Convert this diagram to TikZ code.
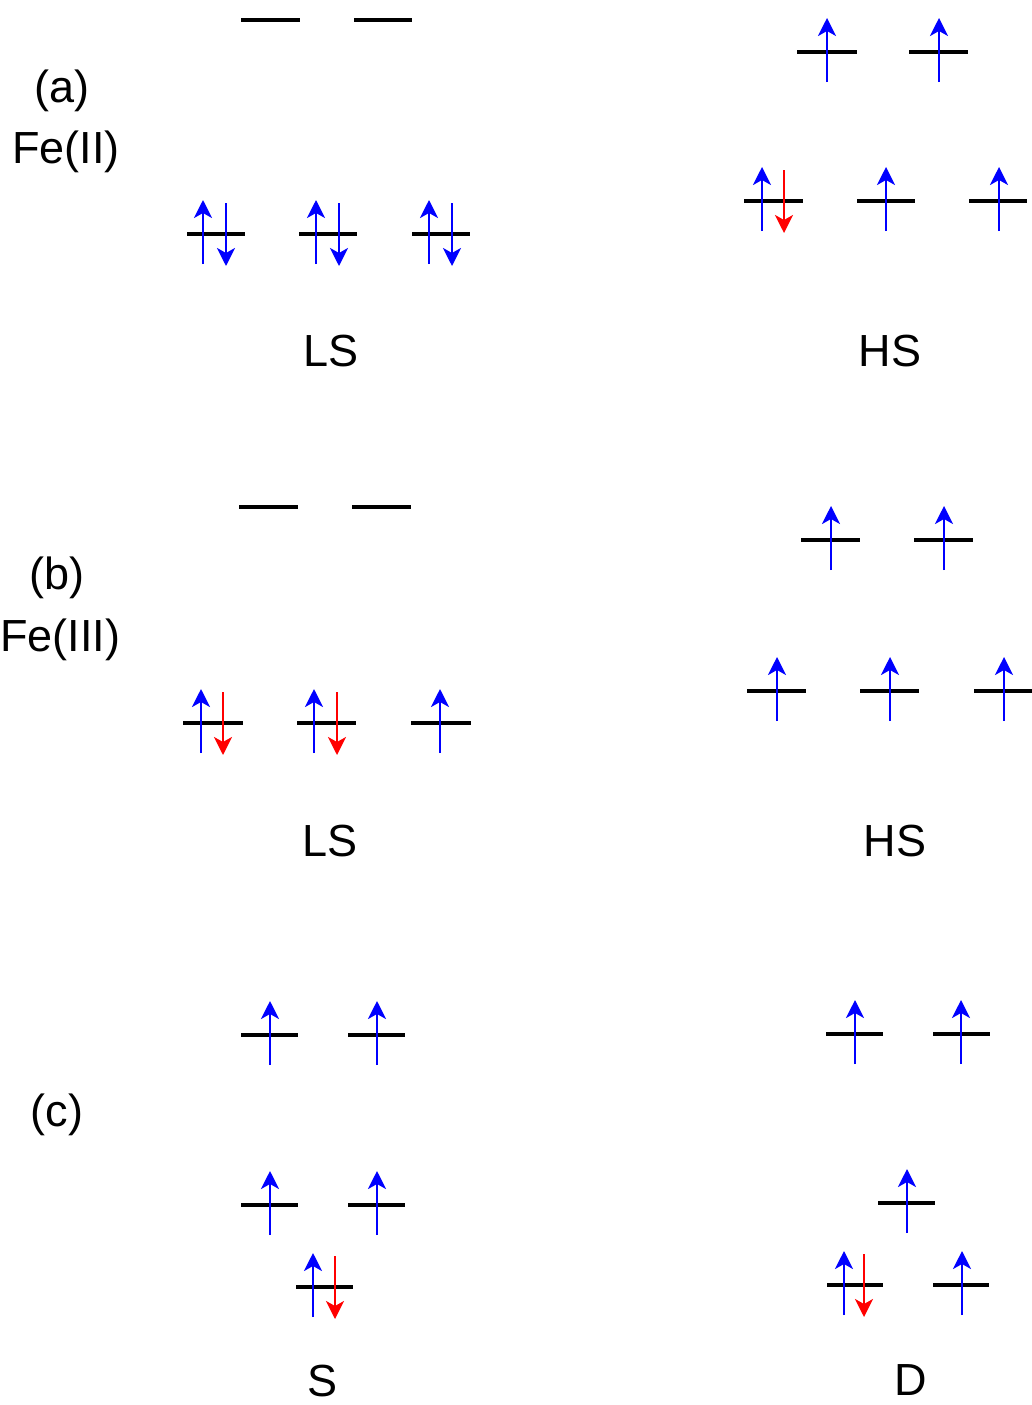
\documentclass[tikz,border=0pt]{standalone}
\usepackage{fontspec}
\setmainfont{Liberation Sans}
\usetikzlibrary{arrows.meta}

\tikzset{
  orbit/.style={line width=3.2pt, black},
  spin/.style={line width=2.4pt, -{Stealth[length=18pt,width=18pt,inset=5pt]}},
  alpha/.style={spin, blue},
  betablue/.style={spin, blue},
  betared/.style={spin, red},
  panel/.style={font=\fontsize{45}{45}\selectfont, inner sep=0pt, anchor=center},
  state/.style={font=\fontsize{45}{45}\selectfont, inner sep=0pt, anchor=center},
}

% an orbital level: name, left x, right x, height
\newcommand\orbital[4]{%
  \coordinate (#1-l) at (#2,#4);
  \coordinate (#1-r) at (#3,#4);
  \draw[orbit] (#1-l) -- (#1-r);}
% spin up / spin down electrons: x, level height
\newcommand\spinup[2]{\draw[alpha] (#1,#2+30) -- (#1,#2-34);}
\newcommand\spindn[3]{\draw[#3] (#1,#2-31) -- (#1,#2+32);}

\begin{document}
\begin{tikzpicture}[x=1pt, y=-1pt]
\useasboundingbox (0,0) rectangle (1032,1405);

% ---------- (a) Fe(II) ----------
\node[panel] (la) at (62,91) {(a)};
\node[panel] (fa) at (66,152) {Fe(II)};
% low spin
\orbital{aLe1}{241}{300}{20}
\orbital{aLe2}{354}{412}{20}
\orbital{aLt1}{187}{245}{234} \spinup{203}{234} \spindn{226}{234}{betablue}
\orbital{aLt2}{299}{357}{234} \spinup{316}{234} \spindn{339}{234}{betablue}
\orbital{aLt3}{412}{470}{234} \spinup{429}{234} \spindn{452}{234}{betablue}
\node[state] (aLS) at (331,351) {LS};
% high spin
\orbital{aHe1}{797}{857}{52} \spinup{827}{52}
\orbital{aHe2}{909}{968}{52} \spinup{939}{52}
\orbital{aHt1}{744}{803}{201} \spinup{762}{201} \spindn{784}{201}{betared}
\orbital{aHt2}{857}{915}{201} \spinup{886}{201}
\orbital{aHt3}{969}{1027}{201} \spinup{999}{201}
\node[state] (aHS) at (890,351) {HS};

% ---------- (b) Fe(III) ----------
\node[panel] (lb) at (57,578) {(b)};
\node[panel] (fb) at (60,640) {Fe(III)};
% low spin
\orbital{bLe1}{239}{298}{507}
\orbital{bLe2}{352}{411}{507}
\orbital{bLt1}{183}{243}{723} \spinup{201}{723} \spindn{223}{723}{betared}
\orbital{bLt2}{297}{356}{723} \spinup{314}{723} \spindn{337}{723}{betared}
\orbital{bLt3}{411}{471}{723} \spinup{440}{723}
\node[state] (bLS) at (330,841) {LS};
% high spin
\orbital{bHe1}{801}{860}{540} \spinup{831}{540}
\orbital{bHe2}{914}{973}{540} \spinup{944}{540}
\orbital{bHt1}{747}{806}{691} \spinup{777}{691}
\orbital{bHt2}{860}{919}{691} \spinup{890}{691}
\orbital{bHt3}{974}{1032}{691} \spinup{1004}{691}
\node[state] (bHS) at (895,841) {HS};

% ---------- (c) ----------
\node[panel] (lc) at (57,1115) {(c)};
% singlet
\orbital{cSa1}{241}{298}{1035} \spinup{270}{1035}
\orbital{cSa2}{348}{405}{1035} \spinup{377}{1035}
\orbital{cSb1}{241}{298}{1205} \spinup{270}{1205}
\orbital{cSb2}{348}{405}{1205} \spinup{377}{1205}
\orbital{cSc1}{296}{353}{1287} \spinup{313}{1287} \spindn{335}{1287}{betared}
\node[state] (cS) at (323,1381) {S};
% doublet
\orbital{cDa1}{826}{883}{1034} \spinup{855}{1034}
\orbital{cDa2}{933}{990}{1034} \spinup{961}{1034}
\orbital{cDb1}{878}{935}{1203} \spinup{907}{1203}
\orbital{cDc1}{827}{883}{1285} \spinup{844}{1285} \spindn{864}{1285}{betared}
\orbital{cDc2}{933}{989}{1285} \spinup{962}{1285}
\node[state] (cD) at (911,1380) {D};
\end{tikzpicture}
\end{document}
